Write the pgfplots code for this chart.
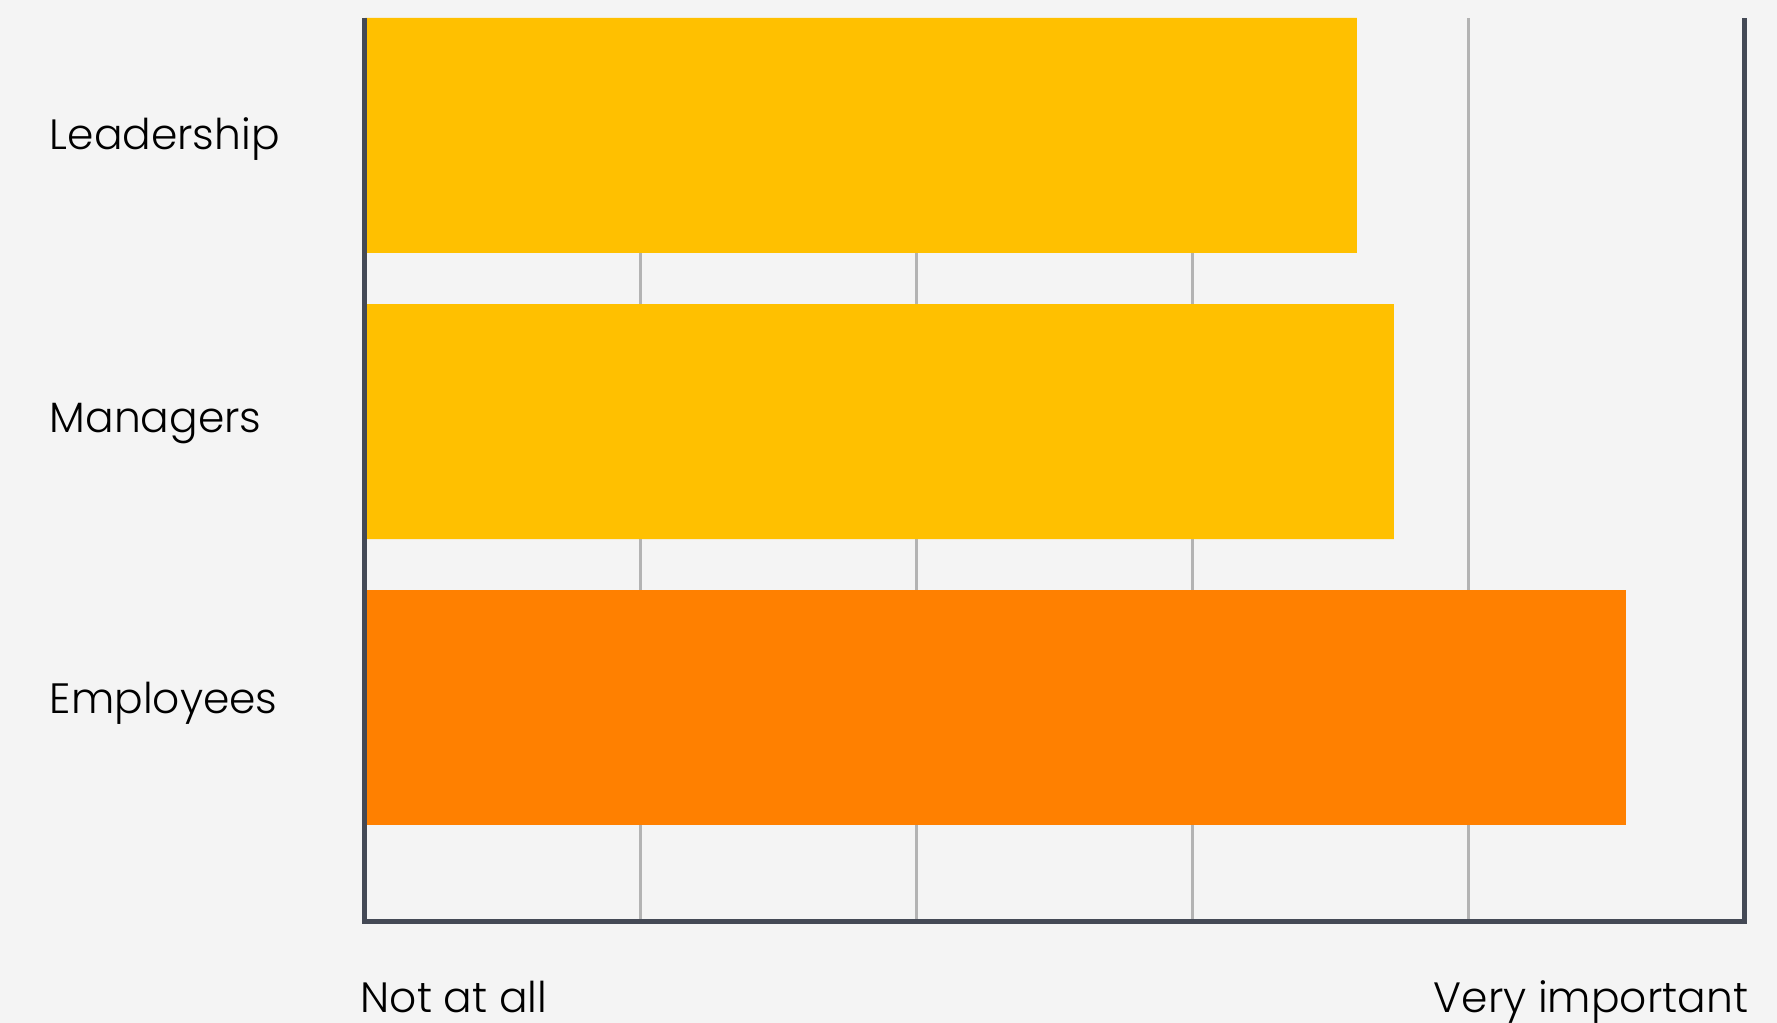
\documentclass[border=0pt]{standalone}
\usepackage{fontspec}
\setmainfont{Poppins}[UprightFont=* Light]
\usepackage{pgfplots}
\pgfplotsset{compat=1.18}
\definecolor{bgc}{HTML}{F4F4F4}
\definecolor{yel}{HTML}{FFC000}
\definecolor{org}{HTML}{FF8000}
\definecolor{axc}{HTML}{444955}
\definecolor{grc}{HTML}{B3B3B3}
\begin{document}
\begin{tikzpicture}
\fill[bgc] (-91.25pt,-25.25pt) rectangle (353pt,230.5pt);
\begin{axis}[
  at={(0,0)}, anchor=south west,
  scale only axis, width=345pt, height=226pt,
  xmin=0, xmax=5, ymin=-0.748, ymax=2.41,
  xbar, bar width=58.75pt, bar shift=0pt,
  xtick={1,2,3,4}, xticklabels={},
  major tick length=0pt,
  xmajorgrids, grid style={grc, line width=0.75pt},
  ytick={0.028,1.01,2}, yticklabels={Employees,Managers,Leadership},
  yticklabel style={anchor=base west, inner sep=0pt, xshift=-79pt, yshift=-3.5pt, font=\fontsize{10.6pt}{13pt}\selectfont},
  axis line style={draw=none},
  clip=false,
]
\addplot[fill=yel, draw=none] coordinates {(3.594,2) (3.728,1)};
\addplot[fill=org, draw=none] coordinates {(4.57,0)};
\draw[axc, line width=1.25pt] (rel axis cs:0,1) -- (rel axis cs:0,0) -- (rel axis cs:1,0) -- (rel axis cs:1,1);
\node[anchor=base west, inner sep=0pt, font=\fontsize{10.6pt}{13pt}\selectfont] at ([xshift=-1.25pt,yshift=-22.75pt]rel axis cs:0,0) {Not at all};
\node[anchor=base east, inner sep=0pt, font=\fontsize{10.6pt}{13pt}\selectfont] at ([xshift=1pt,yshift=-22.75pt]rel axis cs:1,0) {Very important};
\end{axis}
\pgfresetboundingbox
\path (-91.25pt,-25.25pt) rectangle (353pt,230.5pt);
\end{tikzpicture}
\end{document}
